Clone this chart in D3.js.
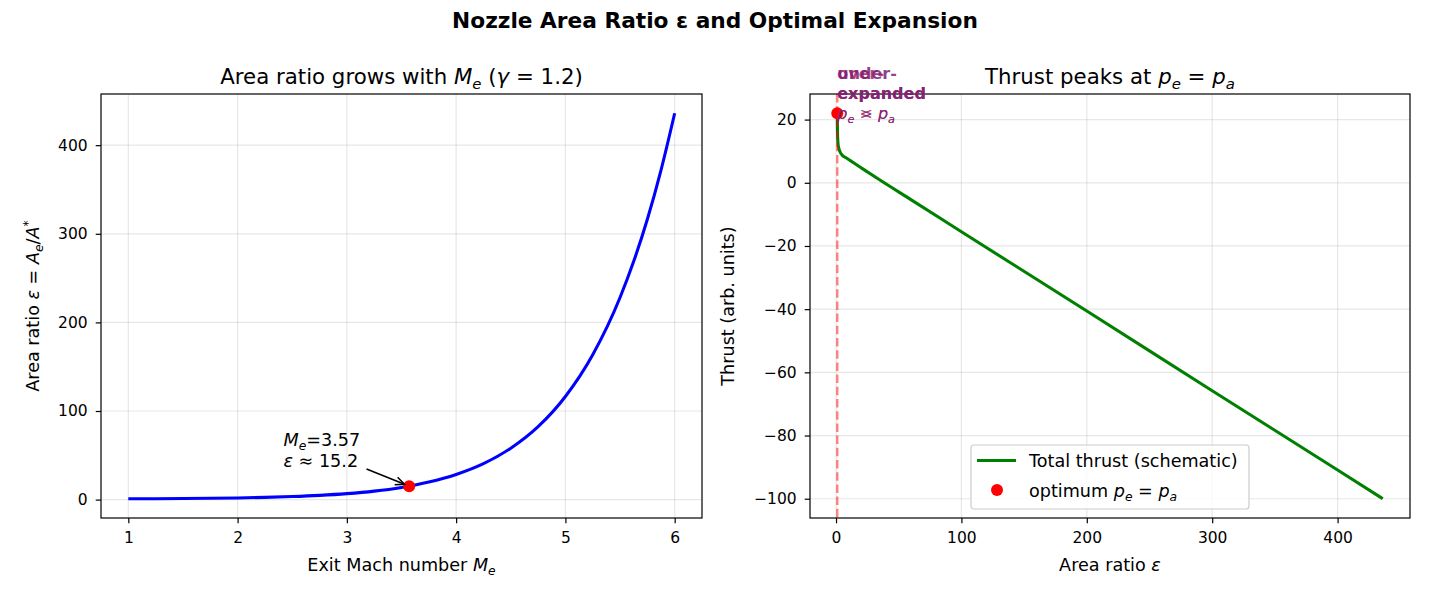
<!DOCTYPE html>
<html>
<head>
<meta charset="utf-8">
<script src="https://cdn.jsdelivr.net/npm/d3@7"></script>
<style>
    body { margin: 0; background: #fff; }
    svg text { font-family: "DejaVu Sans", sans-serif; fill: #000; }
</style>
</head>
<body>
<div id="chart"></div>
<script>
// ---- data ----
const machValues = [1, 1.25, 1.5, 1.75, 2, 2.25, 2.5, 2.75, 3, 3.25, 3.5, 3.75, 4, 4.25, 4.5, 4.75, 5, 5.25, 5.5, 5.625, 5.75, 5.875, 6];
const areaRatios = [1.0, 1.05, 1.21, 1.47, 1.88, 2.50, 3.42, 4.77, 6.74, 9.60, 13.8, 19.8, 28.4, 40.6, 58.0, 82.3, 116.4, 163.5, 228.1, 268.9, 316.4, 371.9, 436.0];

const thrustEps = [1, 1.1, 1.3, 1.6, 2, 3, 5, 8, 12, 20, 35, 60, 100, 200, 300, 400, 436];
const thrustValues = [22, 18, 14.5, 12.5, 11.3, 10.0, 8.7, 7.9, 6.85, 4.75, 0.85, -5.4, -15.5, -40.6, -65.8, -90.9, -100];

const designMach = 3.57;
const designEps = 15.2;
const optimumEps = 1;
const optimumThrust = 22;

const leftXTicks = [1, 2, 3, 4, 5, 6];
const leftYTicks = [0, 100, 200, 300, 400];
const rightXTicks = [0, 100, 200, 300, 400];
const rightYTicks = [-100, -80, -60, -40, -20, 0, 20];

// ---- layout ----
const W = 1430, H = 598;
const FS = 15.5;          // tick labels
const LABEL_FS = 17.6;    // axis labels, legend, annotation
const TITLE_FS = 21.3;    // panel titles
const SUP_FS = 21.7;      // figure title
const leftBox = { x: 101, y: 94, w: 601, h: 424 };
const rightBox = { x: 810, y: 94, w: 600, h: 424 };

const svg = d3.select('#chart').append('svg')
    .attr('width', W)
    .attr('height', H);

const padded = ext => {
    const r = ext[1] - ext[0];
    return [ext[0] - 0.05 * r, ext[1] + 0.05 * r];
};

// text with simple math parts: {t, i: italic, sub, sup, w: weight}
function richText(sel, parts, fs) {
    let shift = 0;
    parts.forEach(p => {
        const ts = sel.append('tspan').text(p.t);
        if (p.i) ts.style('font-style', 'italic');
        if (p.w) ts.style('font-weight', p.w);
        if (p.sub) {
            ts.style('font-size', (fs * 0.7) + 'px').attr('dy', fs * 0.22 - shift);
            shift = fs * 0.22;
        } else if (p.sup) {
            ts.style('font-size', (fs * 0.7) + 'px').attr('dy', -fs * 0.38 - shift);
            shift = -fs * 0.38;
        } else if (shift !== 0) {
            ts.attr('dy', -shift);
            shift = 0;
        }
    });
    return sel;
}

function makeAxes(box, xDomain, yDomain, xTicks, yTicks) {
    const x = d3.scaleLinear().domain(xDomain).range([0, box.w]);
    const y = d3.scaleLinear().domain(yDomain).range([box.h, 0]);
    const g = svg.append('g').attr('transform', `translate(${box.x},${box.y})`);

    // grid
    const grid = g.append('g').attr('class', 'grid');
    grid.selectAll('.gx').data(xTicks).join('line')
        .attr('x1', d => x(d)).attr('x2', d => x(d))
        .attr('y1', 0).attr('y2', box.h)
        .attr('stroke', '#b0b0b0').attr('stroke-opacity', 0.3).attr('stroke-width', 1.2);
    grid.selectAll('.gy').data(yTicks).join('line')
        .attr('y1', d => y(d)).attr('y2', d => y(d))
        .attr('x1', 0).attr('x2', box.w)
        .attr('stroke', '#b0b0b0').attr('stroke-opacity', 0.3).attr('stroke-width', 1.2);

    const plot = g.append('g');
    const top = g.append('g');

    const xAxisG = top.append('g')
        .attr('transform', `translate(0,${box.h})`)
        .call(d3.axisBottom(x).tickValues(xTicks).tickFormat(d3.format('d'))
            .tickSize(5.3).tickPadding(8.3).tickSizeOuter(0));
    const yAxisG = top.append('g')
        .call(d3.axisLeft(y).tickValues(yTicks).tickFormat(d3.format('d'))
            .tickSize(5.3).tickPadding(8).tickSizeOuter(0));
    [xAxisG, yAxisG].forEach(a => {
        a.select('.domain').remove();
        a.selectAll('line').attr('stroke', '#000').attr('stroke-width', 1.2);
        a.selectAll('text').style('font-size', FS + 'px').attr('fill', '#000');
    });
    top.append('rect')
        .attr('width', box.w).attr('height', box.h)
        .attr('fill', 'none').attr('stroke', '#000').attr('stroke-width', 1.2);

    return { g, plot, top, x, y, box };
}

// ---- suptitle ----
svg.append('text')
    .attr('x', W / 2).attr('y', 28)
    .attr('text-anchor', 'middle')
    .style('font-size', SUP_FS + 'px')
    .style('font-weight', 'bold')
    .text('Nozzle Area Ratio ε and Optimal Expansion');

// ---- left panel: area ratio vs exit Mach ----
const left = makeAxes(leftBox, padded(d3.extent(machValues)), padded(d3.extent(areaRatios)), leftXTicks, leftYTicks);

const leftLine = d3.line()
    .x((d, i) => left.x(machValues[i]))
    .y(d => left.y(d))
    .curve(d3.curveMonotoneX);

left.plot.append('path')
    .datum(areaRatios)
    .attr('d', leftLine)
    .attr('fill', 'none')
    .attr('stroke', '#0000ff')
    .attr('stroke-width', 3.06);

left.plot.append('circle')
    .attr('cx', left.x(designMach))
    .attr('cy', left.y(designEps))
    .attr('r', 6)
    .attr('fill', '#ff0000');

// annotation text + arrow
const annTextX = 2.42, annTextY = 37;     // baseline of last line, data coords
const annTailX = 3.18, annTailY = 34.5;
const annText = left.plot.append('text')
    .attr('x', left.x(annTextX))
    .attr('y', left.y(annTextY) - 21)
    .style('font-size', LABEL_FS + 'px');
richText(annText, [{ t: 'M', i: true }, { t: 'e', i: true, sub: true }, { t: '=3.57' }], LABEL_FS);
const annText2 = left.plot.append('text')
    .attr('x', left.x(annTextX))
    .attr('y', left.y(annTextY))
    .style('font-size', LABEL_FS + 'px');
richText(annText2, [{ t: 'ε', i: true }, { t: ' ≈ 15.2' }], LABEL_FS);

{
    const x0 = left.x(annTailX), y0 = left.y(annTailY);
    const px = left.x(designMach), py = left.y(designEps);
    const dx = px - x0, dy = py - y0, len = Math.hypot(dx, dy);
    const ux = dx / len, uy = dy / len;
    const x1 = px - ux * 5, y1 = py - uy * 5;
    const hl = 9, hw = 4;
    left.plot.append('line')
        .attr('x1', x0).attr('y1', y0).attr('x2', x1).attr('y2', y1)
        .attr('stroke', '#000').attr('stroke-width', 1.5);
    left.plot.append('path')
        .attr('d', `M${x1 - ux * hl - uy * hw},${y1 - uy * hl + ux * hw}L${x1},${y1}L${x1 - ux * hl + uy * hw},${y1 - uy * hl - ux * hw}`)
        .attr('fill', 'none').attr('stroke', '#000').attr('stroke-width', 1.5);
}

// titles & labels
richText(svg.append('text')
    .attr('x', leftBox.x + leftBox.w / 2).attr('y', 84)
    .attr('text-anchor', 'middle')
    .style('font-size', TITLE_FS + 'px'),
    [{ t: 'Area ratio grows with ' }, { t: 'M', i: true }, { t: 'e', i: true, sub: true }, { t: ' (' }, { t: 'γ', i: true }, { t: ' = 1.2)' }], TITLE_FS);

richText(svg.append('text')
    .attr('x', leftBox.x + leftBox.w / 2).attr('y', 571)
    .attr('text-anchor', 'middle')
    .style('font-size', LABEL_FS + 'px'),
    [{ t: 'Exit Mach number ' }, { t: 'M', i: true }, { t: 'e', i: true, sub: true }], LABEL_FS);

richText(svg.append('text')
    .attr('transform', `translate(39,${leftBox.y + leftBox.h / 2}) rotate(-90)`)
    .attr('text-anchor', 'middle')
    .style('font-size', LABEL_FS + 'px'),
    [{ t: 'Area ratio ' }, { t: 'ε', i: true }, { t: ' = ' }, { t: 'A', i: true }, { t: 'e', i: true, sub: true }, { t: '/' }, { t: 'A', i: true }, { t: '*', sup: true }], LABEL_FS);

// ---- right panel: thrust vs area ratio ----
const right = makeAxes(rightBox, padded(d3.extent(thrustEps)), padded(d3.extent(thrustValues)), rightXTicks, rightYTicks);

const rightLine = d3.line()
    .x((d, i) => right.x(thrustEps[i]))
    .y(d => right.y(d))
    .curve(d3.curveMonotoneX);

right.plot.append('path')
    .datum(thrustValues)
    .attr('d', rightLine)
    .attr('fill', 'none')
    .attr('stroke', '#008000')
    .attr('stroke-width', 3.06);

right.plot.append('line')
    .attr('x1', right.x(optimumEps)).attr('x2', right.x(optimumEps))
    .attr('y1', 0).attr('y2', rightBox.h)
    .attr('stroke', '#ff0000').attr('stroke-opacity', 0.5)
    .attr('stroke-width', 2.3)
    .attr('stroke-dasharray', '8.5,3.7');

right.plot.append('circle')
    .attr('cx', right.x(optimumEps))
    .attr('cy', right.y(optimumThrust))
    .attr('r', 6)
    .attr('fill', '#ff0000');

// overlapping regime labels (both drawn at the optimum, as in the source figure)
const REGIME_FS = 16;
const regimeLabels = [
    { lines: ['over-', 'expanded'], op: '<', color: '#b0205a' },
    { lines: ['under-', 'expanded'], op: '>', color: '#7a1f78' }
];
regimeLabels.forEach(lab => {
    const gx = rightBox.x + right.x(optimumEps);
    const baseY = [79, 99, 119];
    lab.lines.forEach((l, k) => {
        svg.append('text')
            .attr('x', gx).attr('y', baseY[k])
            .style('font-size', REGIME_FS + 'px')
            .style('font-weight', 'bold')
            .style('fill', lab.color)
            .style('fill-opacity', 0.85)
            .text(l);
    });
    const t = svg.append('text')
        .attr('x', gx).attr('y', baseY[2])
        .style('font-size', REGIME_FS + 'px')
        .style('fill', lab.color)
        .style('fill-opacity', 0.85);
    richText(t, [{ t: 'p', i: true }, { t: 'e', i: true, sub: true }, { t: ' ' + lab.op + ' ' }, { t: 'p', i: true }, { t: 'a', i: true, sub: true }], REGIME_FS);
});

richText(svg.append('text')
    .attr('x', rightBox.x + rightBox.w / 2).attr('y', 84)
    .attr('text-anchor', 'middle')
    .style('font-size', TITLE_FS + 'px'),
    [{ t: 'Thrust peaks at ' }, { t: 'p', i: true }, { t: 'e', i: true, sub: true }, { t: ' = ' }, { t: 'p', i: true }, { t: 'a', i: true, sub: true }], TITLE_FS);

richText(svg.append('text')
    .attr('x', rightBox.x + rightBox.w / 2).attr('y', 571)
    .attr('text-anchor', 'middle')
    .style('font-size', LABEL_FS + 'px'),
    [{ t: 'Area ratio ' }, { t: 'ε', i: true }], LABEL_FS);

svg.append('text')
    .attr('transform', `translate(734,${rightBox.y + rightBox.h / 2}) rotate(-90)`)
    .attr('text-anchor', 'middle')
    .style('font-size', LABEL_FS + 'px')
    .text('Thrust (arb. units)');

// legend (lower center)
{
    const lw = 278, lh = 64;
    const lx = rightBox.w / 2 - lw / 2, ly = rightBox.h - 9 - lh;
    const leg = right.top.append('g').attr('transform', `translate(${lx},${ly})`);
    leg.append('rect')
        .attr('width', lw).attr('height', lh).attr('rx', 3)
        .attr('fill', '#fff').attr('fill-opacity', 0.8)
        .attr('stroke', '#cccccc').attr('stroke-width', 1.2);
    leg.append('line')
        .attr('x1', 6).attr('x2', 45).attr('y1', 15.5).attr('y2', 15.5)
        .attr('stroke', '#008000').attr('stroke-width', 3.06);
    leg.append('text')
        .attr('x', 58).attr('y', 22)
        .style('font-size', LABEL_FS + 'px')
        .text('Total thrust (schematic)');
    leg.append('circle')
        .attr('cx', 26).attr('cy', 45).attr('r', 6).attr('fill', '#ff0000');
    richText(leg.append('text')
        .attr('x', 58).attr('y', 52)
        .style('font-size', LABEL_FS + 'px'),
        [{ t: 'optimum ' }, { t: 'p', i: true }, { t: 'e', i: true, sub: true }, { t: ' = ' }, { t: 'p', i: true }, { t: 'a', i: true, sub: true }], LABEL_FS);
}
</script>
</body>
</html>
